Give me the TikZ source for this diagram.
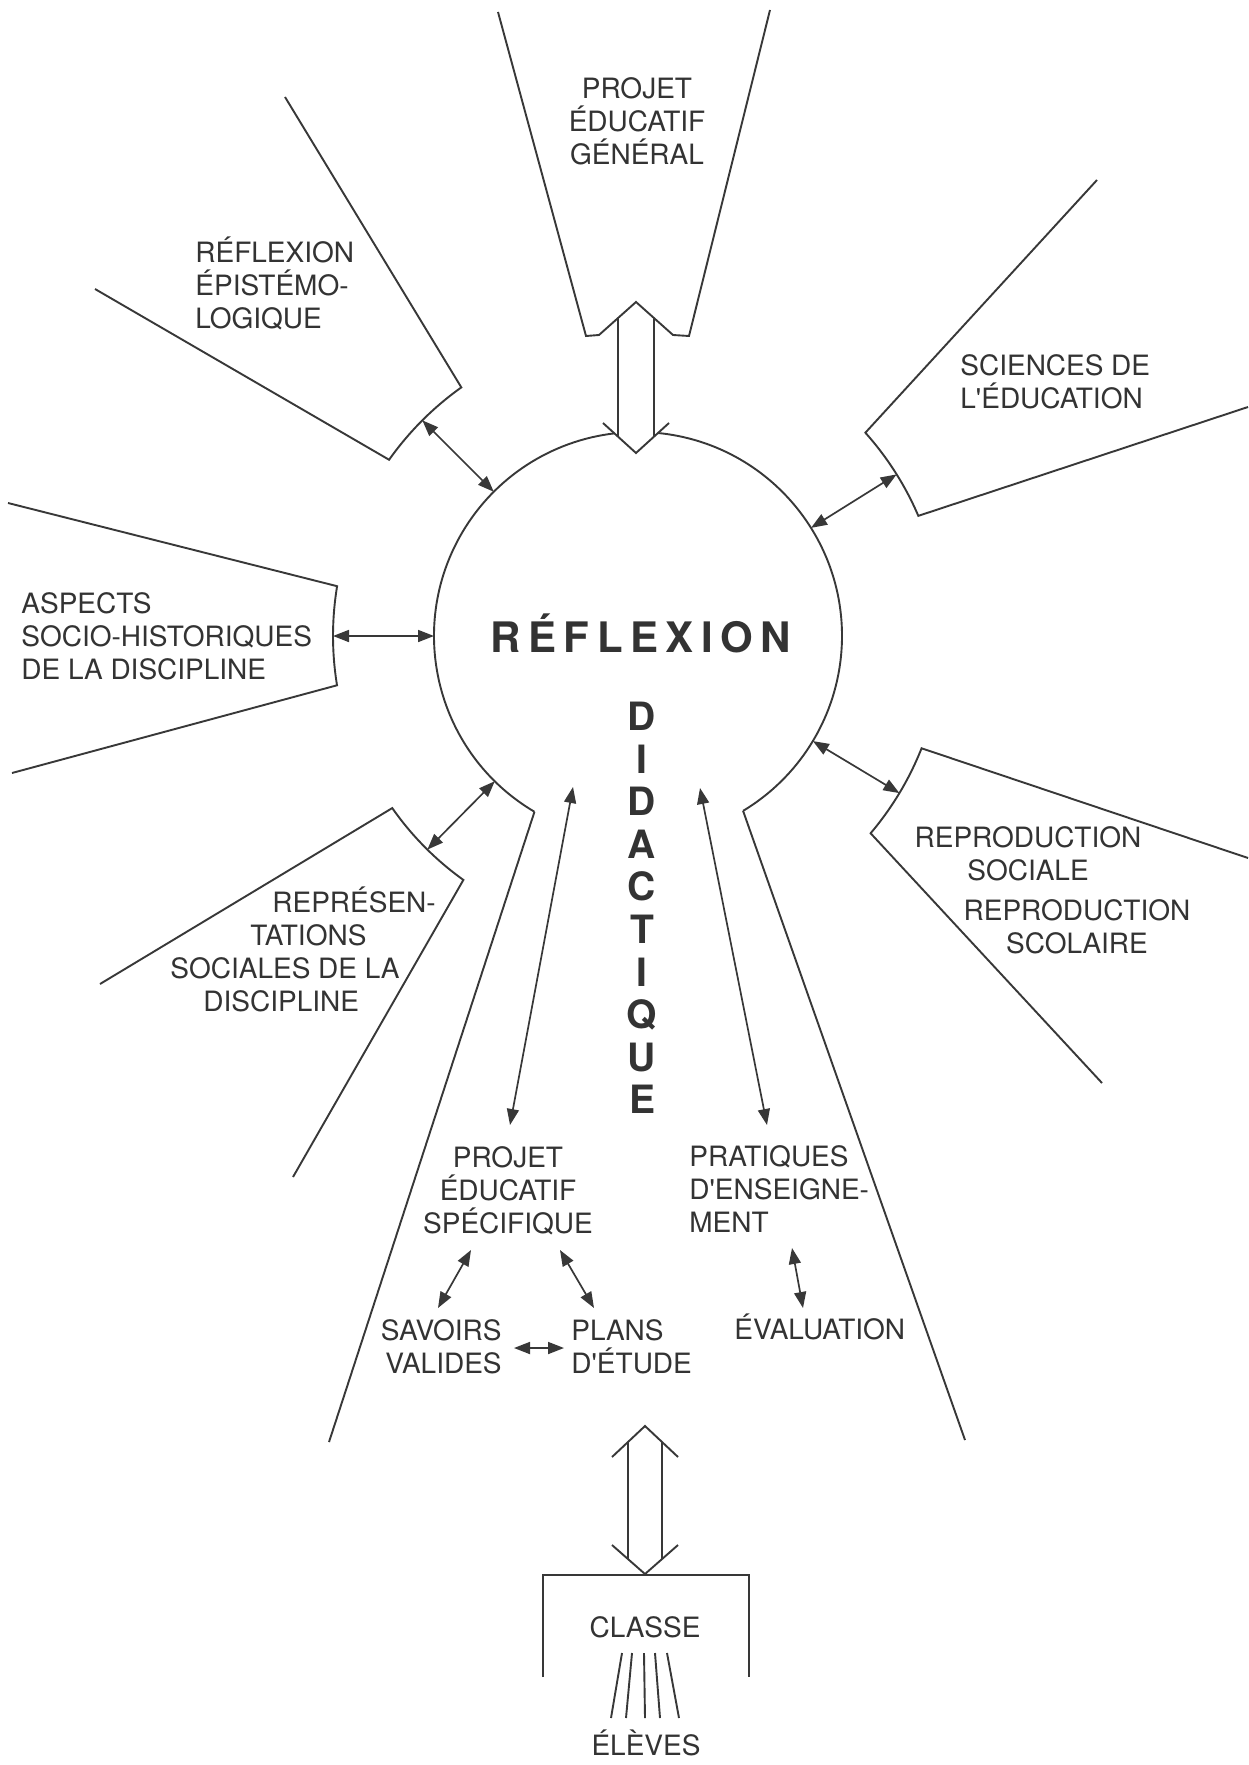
\documentclass[tikz,border=0pt]{standalone}
\usepackage{fontspec}
\setmainfont{TeX Gyre Heros}
\newfontfamily\spacedfont[LetterSpace=18]{TeX Gyre Heros}
\usetikzlibrary{arrows.meta,calc}
\definecolor{ink}{HTML}{333333}
\definecolor{lineclr}{HTML}{383838}
\newcommand{\fl}[1]{\rule{0pt}{10pt}\smash{#1}}
\newcommand{\flbig}[1]{\rule{0pt}{14pt}\smash{#1}}
\begin{document}
\begin{tikzpicture}[x=0.5pt,y=-0.5pt,
  ln/.style={draw=lineclr, line width=0.95pt, line join=miter},
  dbl/.style={draw=lineclr, line width=0.85pt, {Triangle[length=8pt,width=6pt]}-{Triangle[length=8pt,width=6pt]}},
  lbl/.style={inner sep=0pt, text=ink, font=\fontsize{14}{16.5}\selectfont},
]
\fill[white] (0,0) rectangle (1248,1765);
\useasboundingbox (0,0) rectangle (1248,1765);

% centre of the reflexion circle
\coordinate (c) at (638,636);

% circle (open at the bottom, gap at the top for the big arrow)
\draw[ln] ($(c)+(120.5:204)$) arc[start angle=120.5, end angle=263.4, radius=204];
\draw[ln] ($(c)+(275.65:204)$) arc[start angle=275.65, end angle=419, radius=204];
% neck lines
\draw[ln] ($(c)+(120.5:204)$) -- (329,1442);
\draw[ln] ($(c)+(59:204)$) -- (965,1440);

% top funnel: projet educatif general
\draw[ln] (498,12) -- (586,336) -- (599,335) -- (636,302) -- (673,335) -- (689,336) -- (770,10);
% big arrow down
\draw[ln] (618,318) -- (618,437);
\draw[ln] (654,318) -- (654,437);
\draw[ln] (603,423) -- (636,453) -- (669,423);

% funnel: reflexion epistemologique
\draw[ln] (285,97) -- ($(c)+(234.6:305)$) arc[start angle=234.6, end angle=215.3, radius=305] -- (95,289);
% funnel: sciences de l'education
\draw[ln] (1097,180) -- ($(c)+(318.2:305)$) arc[start angle=318.2, end angle=336.8, radius=305] -- (1248,407);
% funnel: aspects socio-historiques
\draw[ln] (8,503) -- ($(c)+(189.4:305)$) arc[start angle=189.4, end angle=170.7, radius=305] -- (12,773);
% funnel: reproduction
\draw[ln] (1248,858) -- ($(c)+(21.6:305)$) arc[start angle=21.6, end angle=40.3, radius=305] -- (1102,1083);
% funnel: representations sociales
\draw[ln] (100,984) -- ($(c)+(145:300)$) arc[start angle=145, end angle=125.6, radius=300] -- (293,1177);

% radial connectors
\coordinate (epiA) at ($(c)+(225:204)$);   \coordinate (epiB) at ($(c)+(225:305)$);
\coordinate (sciA) at ($(c)+(328:204)$);   \coordinate (sciB) at ($(c)+(328:305)$);
\coordinate (aspA) at ($(c)+(180:204)$);   \coordinate (aspB) at ($(c)+(180:305)$);
\coordinate (rprA) at ($(c)+(31:204)$);    \coordinate (rprB) at ($(c)+(31:305)$);
\coordinate (repA) at ($(c)+(134.6:204)$); \coordinate (repB) at ($(c)+(134.6:300)$);
\draw[dbl] (epiB) -- (epiA);
\draw[dbl] (sciB) -- (sciA);
\draw[dbl] (aspB) -- (aspA);
\draw[dbl] (rprB) -- (rprA);
\draw[dbl] (repB) -- (repA);

% texts
\node[lbl, align=center, anchor=north] (peg) at (637,78) {\fl{PROJET}\\ÉDUCATIF\\GÉNÉRAL};
\node[lbl, align=left, anchor=north west] (epi) at (195,242) {\fl{RÉFLEXION}\\ÉPISTÉMO-\\LOGIQUE};
\node[lbl, align=left, anchor=north west] (sci) at (960,355) {\fl{SCIENCES DE}\\L\textquotesingle ÉDUCATION};
\node[lbl, align=left, anchor=north west] (asp) at (21,593) {\fl{ASPECTS}\\SOCIO-HISTORIQUES\\DE LA DISCIPLINE};
\node[lbl, align=center, anchor=north] (rps) at (1028,827) {\fl{REPRODUCTION}\\SOCIALE};
\node[lbl, align=center, anchor=north] (rpc) at (1077,900) {\fl{REPRODUCTION}\\SCOLAIRE};
\node[lbl, align=left, anchor=north west] (rep) at (170,892) {\hspace*{51pt}\fl{REPRÉSEN-}\\\hspace*{40pt}TATIONS\\SOCIALES DE LA\\\hspace*{16.5pt}DISCIPLINE};

\node[inner sep=0pt, text=ink, anchor=base west] (ref) at (490,652) {\spacedfont\bfseries\fontsize{21}{25}\selectfont RÉFLEXION};
\node[inner sep=0pt, text=ink, align=center, anchor=north, font=\fontsize{19.5}{21.3}\selectfont\bfseries] (did) at (642,702)
  {\flbig{D}\\I\\D\\A\\C\\T\\I\\Q\\U\\E};

\node[lbl, align=center, anchor=north] (pes) at (508,1147) {\fl{PROJET}\\ÉDUCATIF\\SPÉCIFIQUE};
\node[lbl, align=left, anchor=north west] (pra) at (689,1146) {\fl{PRATIQUES}\\D\textquotesingle ENSEIGNE-\\MENT};
\node[lbl, align=right, anchor=north east] (sav) at (502,1320) {\fl{SAVOIRS}\\VALIDES};
\node[lbl, align=left, anchor=north west] (pla) at (571,1320) {\fl{PLANS}\\D\textquotesingle ÉTUDE};
\node[lbl, anchor=base west] (eva) at (734,1339) {ÉVALUATION};
\node[lbl, anchor=base] (cla) at (645,1637) {CLASSE};
\node[lbl, anchor=base] (ele) at (646,1755) {ÉLÈVES};

% inner connectors
\coordinate (inLa) at (573,787);  \coordinate (inLb) at (510,1125);
\coordinate (inRa) at (700,788);  \coordinate (inRb) at (767,1125);
\coordinate (psA) at (471,1250);  \coordinate (psB) at (438,1308);
\coordinate (ppA) at (560,1250);  \coordinate (ppB) at (594,1308);
\coordinate (spA) at (514,1348);  \coordinate (spB) at (564,1348);
\coordinate (peA) at (792,1248);  \coordinate (peB) at (803,1308);
\draw[dbl] (inLa) -- (inLb);
\draw[dbl] (inRa) -- (inRb);
\draw[dbl] (psA) -- (psB);
\draw[dbl] (ppA) -- (ppB);
\draw[dbl] (spA) -- (spB);
\draw[dbl] (peA) -- (peB);

% big double arrow to the class
\draw[ln] (628,1442) -- (628,1559);
\draw[ln] (662,1442) -- (662,1559);
\draw[ln] (612,1457) -- (645,1426) -- (678,1457);
\draw[ln] (612,1545) -- (645,1574) -- (678,1545);

% class bracket
\draw[ln] (543,1677) -- (543,1575) -- (749,1575) -- (749,1677);

% rays to the pupils
\draw[ln] (622,1653) -- (611,1718);
\draw[ln] (632,1653) -- (626,1718);
\draw[ln] (644,1653) -- (645,1718);
\draw[ln] (655,1653) -- (660,1718);
\draw[ln] (667,1653) -- (679,1718);
\end{tikzpicture}
\end{document}
